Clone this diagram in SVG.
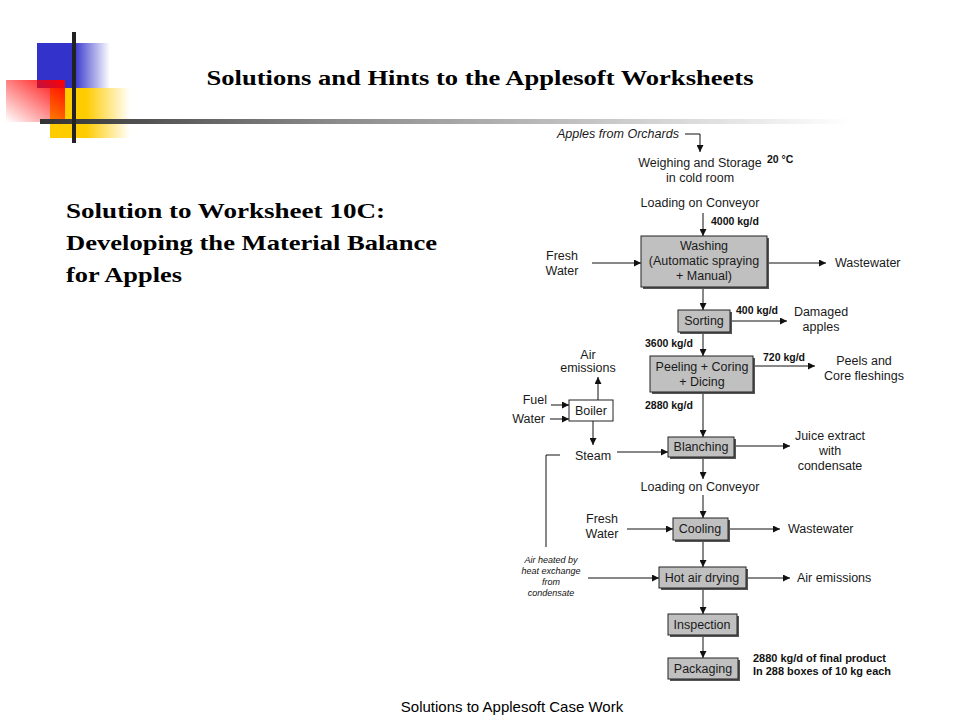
<svg xmlns="http://www.w3.org/2000/svg" width="960" height="720" viewBox="0 0 960 720">
<defs>
<linearGradient id="gBlue" x1="0" y1="0" x2="1" y2="0"><stop offset="0" stop-color="#3333cc"/><stop offset="0.5" stop-color="#3333cc"/><stop offset="1" stop-color="#3333cc" stop-opacity="0"/></linearGradient>
<linearGradient id="gYel" x1="0" y1="0" x2="1" y2="0"><stop offset="0" stop-color="#ffcc00"/><stop offset="0.45" stop-color="#ffcc00"/><stop offset="1" stop-color="#ffcc00" stop-opacity="0"/></linearGradient>
<linearGradient id="gRed" x1="1" y1="0" x2="0" y2="1"><stop offset="0" stop-color="#ff0000"/><stop offset="1" stop-color="#ff0000" stop-opacity="0"/></linearGradient>
<linearGradient id="gLine" x1="0" y1="0" x2="1" y2="0"><stop offset="0" stop-color="#333333"/><stop offset="0.35" stop-color="#888888"/><stop offset="1" stop-color="#ffffff"/></linearGradient>
<marker id="ah" viewBox="0 0 8 8" refX="8" refY="4" markerWidth="7" markerHeight="7" markerUnits="userSpaceOnUse" orient="auto"><path d="M0,0 L8,4 L0,8 Z" fill="#111"/></marker>
</defs>
<style>
.t{font-family:"Liberation Sans",Arial,sans-serif;font-size:12.5px;fill:#1a1a1a}
.c{text-anchor:middle}
.b{font-family:"Liberation Sans",Arial,sans-serif;font-size:10.5px;font-weight:bold;fill:#111}
.i{font-family:"Liberation Sans",Arial,sans-serif;font-size:9px;font-style:italic;fill:#111;text-anchor:middle}
.box{fill:#c0c0c0;stroke:#222;stroke-width:1}
.sh{fill:#555}
.ln{fill:none;stroke:#111;stroke-width:1}
.ar{fill:none;stroke:#111;stroke-width:1;marker-end:url(#ah)}
.hd{font-family:"Liberation Serif","Times New Roman",serif;font-weight:bold;fill:#000}
</style>
<rect width="960" height="720" fill="#fff"/>
<g id="decor">
<rect x="37" y="43" width="73" height="45" fill="url(#gBlue)"/>
<rect x="50" y="88" width="80" height="50" fill="url(#gYel)"/>
<rect x="6" y="80" width="59" height="42" fill="url(#gRed)"/>
<rect x="40" y="119" width="810" height="5" fill="url(#gLine)"/>
<rect x="72" y="32" width="4" height="111" fill="#222"/>
</g>
<text class="hd" x="480" y="85" font-size="21" text-anchor="middle" textLength="547" lengthAdjust="spacingAndGlyphs">Solutions and Hints to the Applesoft Worksheets</text>
<g id="heading" class="hd" font-size="22">
<text x="66" y="218" textLength="319" lengthAdjust="spacingAndGlyphs">Solution to Worksheet 10C:</text>
<text x="66" y="250" textLength="371" lengthAdjust="spacingAndGlyphs">Developing the Material Balance</text>
<text x="66" y="282" textLength="116" lengthAdjust="spacingAndGlyphs">for Apples</text>
</g>
<text x="512" y="712" font-family="Liberation Sans,Arial,sans-serif" font-size="15" text-anchor="middle" fill="#000">Solutions to Applesoft Case Work</text>

<g id="connectors">
<path class="ar" d="M685,134 H700 V152"/>
<path class="ar" d="M703,213 V236"/>
<path class="ar" d="M592,263 H641"/>
<path class="ar" d="M767,263 H826"/>
<path class="ar" d="M703,287 V310"/>
<path class="ar" d="M730,321 H787"/>
<path class="ar" d="M703,332 V356"/>
<path class="ar" d="M753,366 H815"/>
<path class="ar" d="M703,392 V437"/>
<path class="ar" d="M734,446 H790"/>
<path class="ar" d="M703,457 V479"/>
<path class="ar" d="M703,495 V518"/>
<path class="ar" d="M627,529 H673"/>
<path class="ar" d="M728,529 H780"/>
<path class="ar" d="M703,540 V567"/>
<path class="ar" d="M588,578 H659"/>
<path class="ar" d="M746,578 H790"/>
<path class="ar" d="M703,588 V614"/>
<path class="ar" d="M703,635 V658"/>
<path class="ar" d="M598,400 V377"/>
<path class="ar" d="M551,405 H569"/>
<path class="ar" d="M550,419 H569"/>
<path class="ar" d="M593,421 V445"/>
<path class="ar" d="M617,452 H668"/>
<path class="ln" d="M560,455 H546 V547"/>
</g>

<g id="n-apples"><text class="t" x="557" y="138" font-style="italic" textLength="122" lengthAdjust="spacingAndGlyphs">Apples from Orchards</text></g>
<g id="n-weigh"><text class="t c" x="700" y="167">Weighing and Storage</text><text class="t c" x="700" y="182">in cold room</text><text class="b" x="767" y="163">20 °C</text></g>
<g id="n-load1"><text class="t c" x="700" y="207">Loading on Conveyor</text><text class="b" x="711" y="225">4000 kg/d</text></g>
<g id="n-fresh1"><text class="t c" x="562" y="260">Fresh</text><text class="t c" x="562" y="275">Water</text></g>
<g id="n-washing"><rect class="sh" x="643" y="238" width="126" height="51"/><rect class="box" x="641" y="236" width="126" height="51"/><text class="t c" x="704" y="250">Washing</text><text class="t c" x="704" y="265">(Automatic spraying</text><text class="t c" x="704" y="280">+ Manual)</text></g>
<g id="n-ww1"><text class="t" x="835" y="267">Wastewater</text></g>
<g id="n-sorting"><rect class="sh" x="680" y="312" width="52" height="22"/><rect class="box" x="678" y="310" width="52" height="22"/><text class="t c" x="704" y="325">Sorting</text><text class="b" x="736" y="314">400 kg/d</text></g>
<g id="n-damaged"><text class="t c" x="821" y="316">Damaged</text><text class="t c" x="821" y="331">apples</text></g>
<g id="n-peeling"><text class="b" x="645" y="347">3600 kg/d</text><rect class="sh" x="652" y="358" width="103" height="36"/><rect class="box" x="650" y="356" width="103" height="36"/><text class="t c" x="702" y="371">Peeling + Coring</text><text class="t c" x="702" y="386">+ Dicing</text><text class="b" x="763" y="361">720 kg/d</text><text class="b" x="645" y="409">2880 kg/d</text></g>
<g id="n-peels"><text class="t c" x="864" y="365">Peels and</text><text class="t c" x="864" y="380">Core fleshings</text></g>
<g id="n-airem1"><text class="t c" x="588" y="359" font-size="11">Air</text><text class="t c" x="588" y="372" font-size="11">emissions</text></g>
<g id="n-fuel"><text class="t" x="547" y="404" font-size="11" text-anchor="end">Fuel</text><text class="t" x="545" y="423" font-size="11" text-anchor="end">Water</text></g>
<g id="n-boiler"><rect x="569" y="400" width="44" height="21" fill="#fff" stroke="#222"/><text class="t c" x="591" y="415">Boiler</text></g>
<g id="n-steam"><text class="t c" x="593" y="460">Steam</text></g>
<g id="n-blanching"><rect class="sh" x="670" y="439" width="66" height="20"/><rect class="box" x="668" y="437" width="66" height="20"/><text class="t c" x="701" y="451">Blanching</text></g>
<g id="n-juice"><text class="t c" x="830" y="440">Juice extract</text><text class="t c" x="830" y="455">with</text><text class="t c" x="830" y="470">condensate</text></g>
<g id="n-load2"><text class="t c" x="700" y="491">Loading on Conveyor</text></g>
<g id="n-fresh2"><text class="t c" x="602" y="523">Fresh</text><text class="t c" x="602" y="538">Water</text></g>
<g id="n-cooling"><rect class="sh" x="675" y="520" width="55" height="22"/><rect class="box" x="673" y="518" width="55" height="22"/><text class="t c" x="700" y="533">Cooling</text></g>
<g id="n-ww2"><text class="t" x="788" y="533">Wastewater</text></g>
<g id="n-airheat"><text class="i" x="551" y="563">Air heated by</text><text class="i" x="551" y="574">heat exchange</text><text class="i" x="551" y="585">from</text><text class="i" x="551" y="596">condensate</text></g>
<g id="n-drying"><rect class="sh" x="661" y="569" width="87" height="21"/><rect class="box" x="659" y="567" width="87" height="21"/><text class="t c" x="702" y="582">Hot air drying</text></g>
<g id="n-airem2"><text class="t" x="797" y="582">Air emissions</text></g>
<g id="n-inspection"><rect class="sh" x="670" y="616" width="69" height="21"/><rect class="box" x="668" y="614" width="69" height="21"/><text class="t c" x="702" y="629">Inspection</text></g>
<g id="n-packaging"><rect class="sh" x="670" y="660" width="70" height="21"/><rect class="box" x="668" y="658" width="70" height="21"/><text class="t c" x="703" y="673">Packaging</text><text class="b" x="753" y="662" textLength="133" lengthAdjust="spacingAndGlyphs">2880 kg/d of final product</text><text class="b" x="753" y="675" textLength="138" lengthAdjust="spacingAndGlyphs">In 288 boxes of 10 kg each</text></g>
</svg>
